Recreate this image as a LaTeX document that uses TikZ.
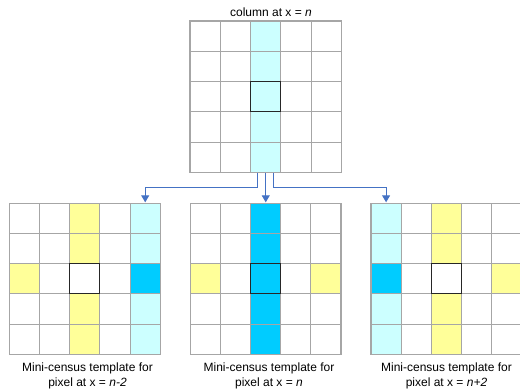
\documentclass[tikz,border=0pt]{standalone}
\usepackage{fontspec}
\setmainfont{Liberation Sans}
\usepackage{tikz}
\usetikzlibrary{arrows.meta,positioning}

\definecolor{palecyan}{HTML}{CCFFFF}
\definecolor{brightcyan}{HTML}{00CCFF}
\definecolor{paleyellow}{HTML}{FFFF99}
\definecolor{gridgray}{HTML}{A6A6A6}
\definecolor{linkblue}{HTML}{4472C4}

\newcommand{\cellgrid}{%
	\foreach \i in {0,...,5} {
		\draw[gridline] (\i,0) -- (\i,5);
		\draw[gridline] (0,\i) -- (5,\i);
	}
	\draw[centre] (2,2) rectangle (3,3);}

\begin{document}
\begin{tikzpicture}[x=1pt,y=-1pt,
	gridline/.style={draw=gridgray,line width=1.1pt,line cap=rect},
	centre/.style={draw=black!85,line width=1.1pt},
	link/.style={draw=linkblue,line width=0.9pt,-{Triangle[width=8pt,length=7pt]}},
	label/.style={font=\fontsize{12}{15}\selectfont,align=center}]
	\useasboundingbox (0,0) rectangle (520,391);

	% column at x = n
	\begin{scope}[shift={(190,21)},x=30.3pt,y=-30.3pt]
		\fill[palecyan] (2,0) rectangle (3,5);
		\cellgrid
		\coordinate (colout) at (2.5,5);
	\end{scope}
	\node[label] (collabel) at (271,12) {column at x = \textit{n}};

	% template for n-2
	\begin{scope}[shift={(9.3,203.3)},x=30.2pt,y=-30.2pt]
		\fill[paleyellow] (2,0) rectangle (3,2) (2,3) rectangle (3,5) (0,2) rectangle (1,3);
		\fill[palecyan] (4,0) rectangle (5,5);
		\fill[brightcyan] (4,2) rectangle (5,3);
		\cellgrid
		\coordinate (leftin) at (4.5,0);
	\end{scope}
	\node[label] (leftlabel) at (87.5,375.5) {Mini-census template for\\pixel at x = \textit{n-2}};

	% template for n
	\begin{scope}[shift={(190.5,203.3)},x=30.1pt,y=-30.2pt]
		\fill[brightcyan] (2,0) rectangle (3,5);
		\fill[paleyellow] (0,2) rectangle (1,3) (4,2) rectangle (5,3);
		\cellgrid
		\coordinate (midin) at (2.5,0);
	\end{scope}
	\node[label] (midlabel) at (269,375.5) {Mini-census template for\\pixel at x = \textit{n}};

	% template for n+2
	\begin{scope}[shift={(371,203.3)},x=30.2pt,y=-30.2pt]
		\fill[palecyan] (0,0) rectangle (1,5);
		\fill[brightcyan] (0,2) rectangle (1,3);
		\fill[paleyellow] (2,0) rectangle (3,2) (2,3) rectangle (3,5) (4,2) rectangle (5,3);
		\cellgrid
		\coordinate (rightin) at (0.5,0);
	\end{scope}
	\node[label] (rightlabel) at (446.5,375.5) {Mini-census template for\\pixel at x = \textit{n+2}};

	\coordinate (bend) at (0,187.3);
	\draw[link] ([xshift=-8pt]colout) |- (leftin |- bend) -- ([yshift=1pt]leftin);
	\draw[link] (colout) -- ([yshift=1pt]midin);
	\draw[link] ([xshift=7.5pt]colout) |- (rightin |- bend) -- ([yshift=1pt]rightin);
\end{tikzpicture}
\end{document}
